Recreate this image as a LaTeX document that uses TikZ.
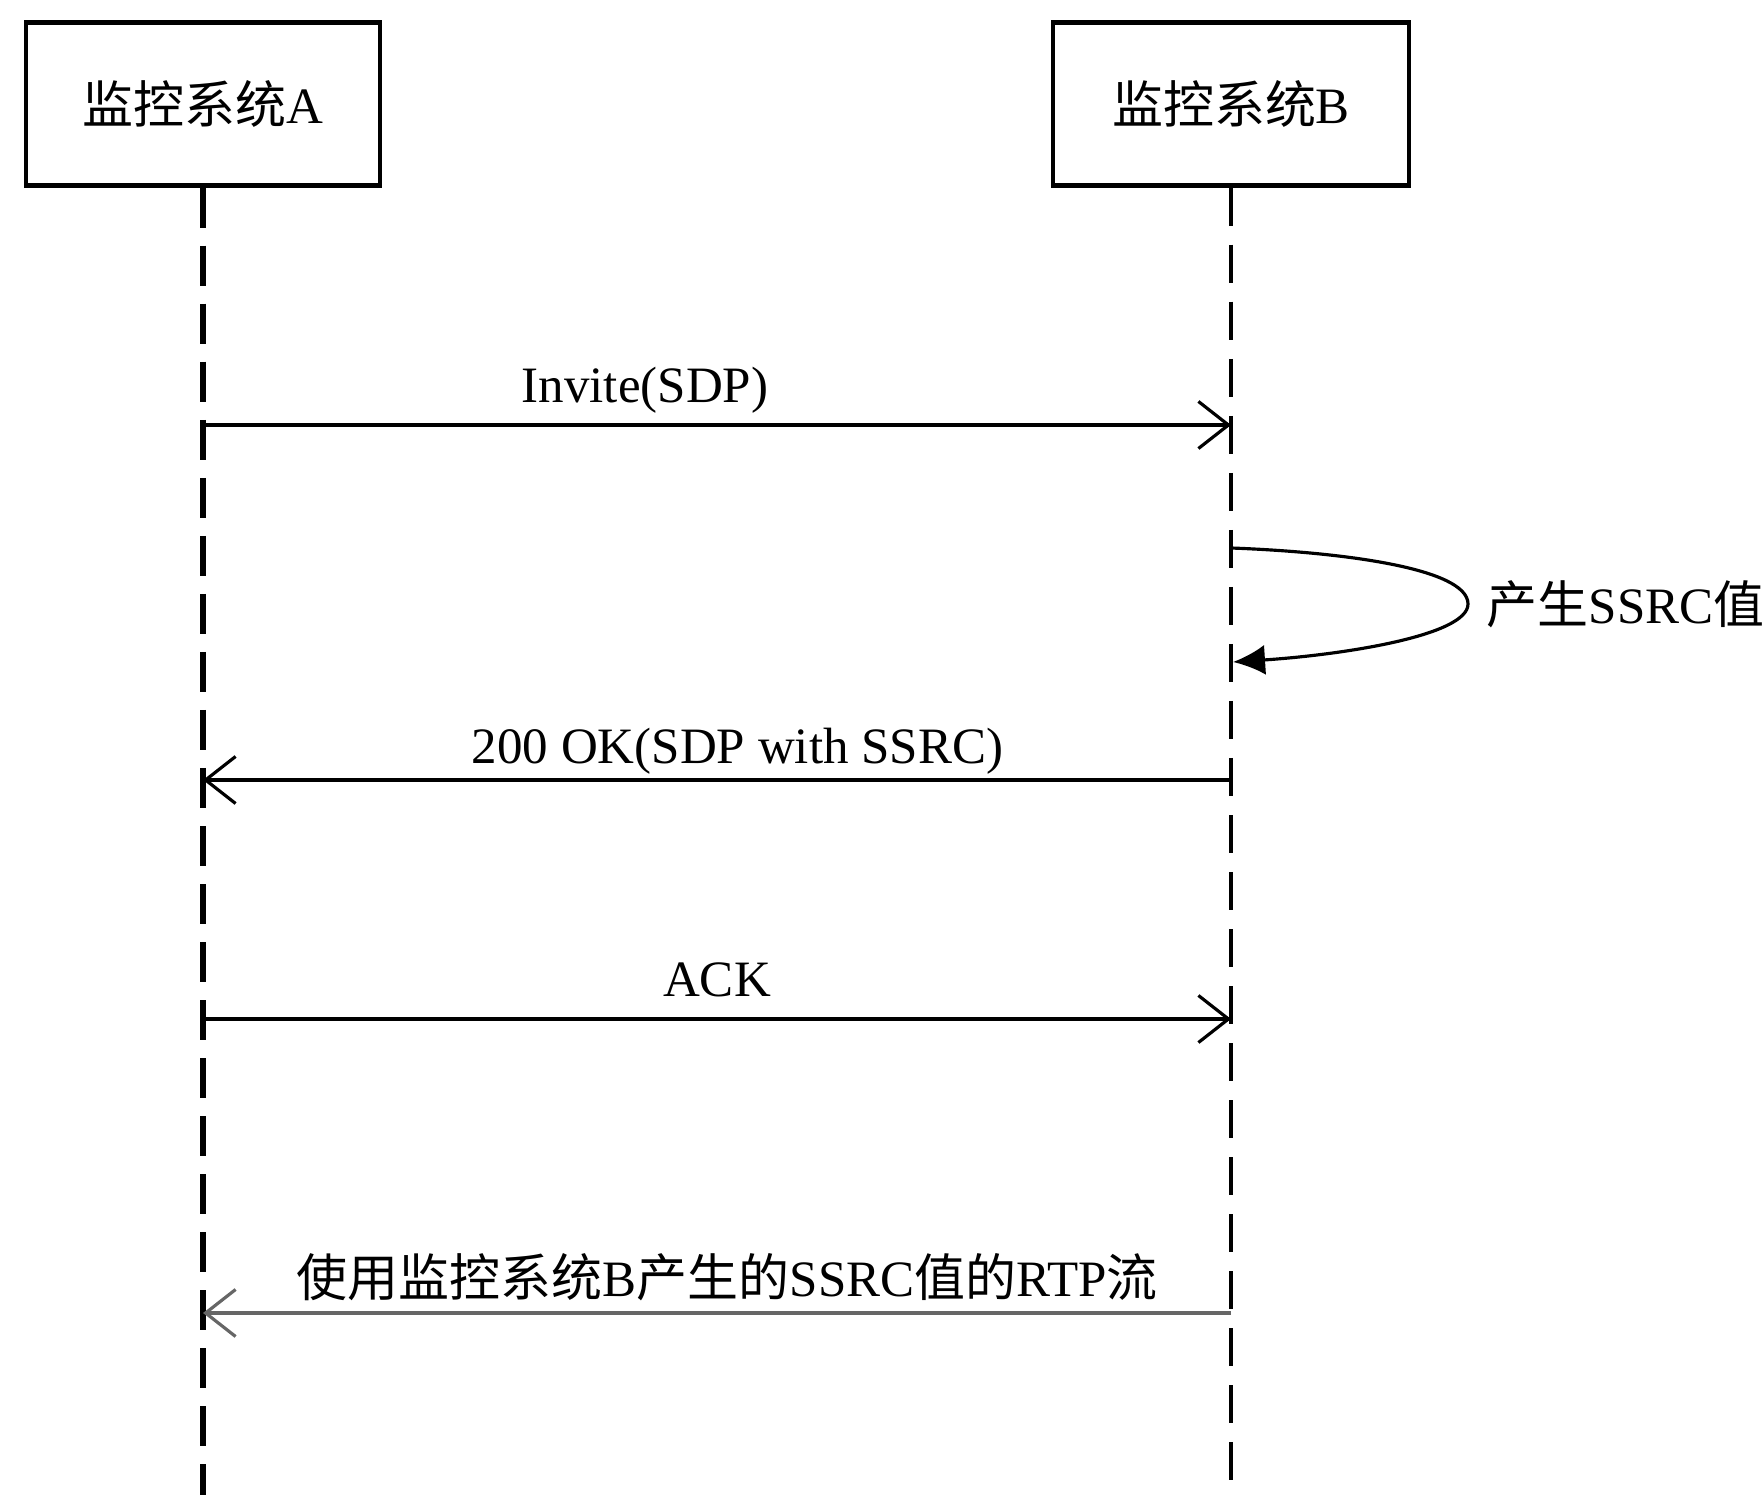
\documentclass[tikz,border=0pt]{standalone}
\usepackage{fontspec}
\setmainfont{Liberation Serif}
\newfontfamily\cjk{Noto Sans CJK SC}
\newcommand{\zh}[1]{{\cjk #1}}
\usepackage{tikz}
\usetikzlibrary{arrows.meta}

\tikzset{
    entity/.style={draw, line width=1.2pt, minimum width=3.54cm, minimum height=1.63cm, inner sep=0pt},
    lifeA/.style={line width=1.7pt, dash pattern=on 0.4cm off 0.18cm},
    lifeB/.style={line width=1pt, dash pattern=on 0.38cm off 0.19cm},
    msg/.style={line width=0.9pt, -{Straight Barb[length=0.3cm, width=0.47cm, line width=0.9pt]}},
    rtp/.style={draw=black!60},
    lbl/.style={anchor=base, yshift=0.16cm, inner sep=0pt},
}

\begin{document}
\begin{tikzpicture}[x=0.01cm, y=-0.01cm, font=\fontsize{14.5}{17}\selectfont]
        \useasboundingbox (0,0) rectangle (1764,1495);

        \node[entity] at (203,104) (sysA) {\zh{监控系统}A};
        \node[entity, minimum width=3.56cm] at (1231,104) (sysB) {\zh{监控系统}B};

        \coordinate (endA) at (sysA.south |- 0,1495);
        \coordinate (endB) at (sysB.south |- 0,1495);

        \draw[lifeA] (sysA.south) -- (endA);
        \draw[lifeB] (sysB.south) -- (endB);

        \coordinate (a1) at (203,425);
        \coordinate (b1) at (1231,425);
        \coordinate (b2) at (1231,548);
        \coordinate (tip) at (1468,604);
        \coordinate (b2e) at (1233,662);
        \coordinate (a3) at (203,780);
        \coordinate (b3) at (1231,780);
        \coordinate (a4) at (203,1019);
        \coordinate (b4) at (1231,1019);
        \coordinate (a5) at (203,1313);
        \coordinate (b5) at (1231,1313);

        \path[msg]
        (a1) edge node [lbl,pos=0.43,yshift=0.06cm] {Invite(SDP)} (b1)
        (b3) edge node [lbl,pos=0.48] {200 OK(SDP with SSRC)} (a3)
        (a4) edge node [lbl,pos=0.5,yshift=0.06cm] {ACK} (b4)
        (b5) edge [rtp] node [lbl,pos=0.49] {\zh{使用监控系统}B\zh{产生的}SSRC\zh{值的}RTP\zh{流}} (a5)
        ;

        % self message on B
        \node[anchor=west, inner sep=0pt] at ([xshift=0.18cm]tip) (gen) {\zh{产生}SSRC\zh{值}};
        \draw[line width=0.9pt, -{Latex[length=0.32cm, width=0.3cm]}]
        (b2) .. controls (1340,552) and (1468,568) .. (tip)
             .. controls (1468,636) and (1340,655) .. (b2e);
    \end{tikzpicture}
\end{document}
